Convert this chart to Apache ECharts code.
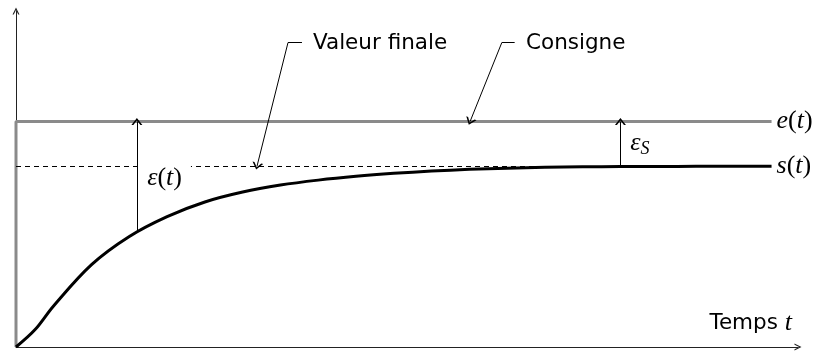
<!DOCTYPE html>
<html>
<head>
<meta charset="utf-8">
<script src="https://cdn.jsdelivr.net/npm/echarts@6/dist/echarts.min.js"></script>
<style>
  html, body { margin: 0; padding: 0; background: #fff; }
  #main { width: 826px; height: 354px; }
</style>
</head>
<body>
<div id="main"></div>
<script>
// temps (abscisse) et sortie s(t)
var temps = [0, 0.25, 0.5, 1, 1.5, 2, 2.5, 3, 3.5, 4, 4.5, 5, 5.5, 6, 6.5, 7, 7.5, 8, 8.5, 9, 9.5, 10];
var sortie = [0, 0.076, 0.183, 0.365, 0.49, 0.578, 0.643, 0.687, 0.718, 0.74, 0.757, 0.77, 0.78, 0.788, 0.793, 0.797, 0.799, 0.8, 0.8, 0.801, 0.801, 0.802];
// consigne e(t) : échelon unitaire
var consigneT = [0, 0, 10];
var consigneV = [0, 1, 1];
var valeurFinale = 0.802;
// instants des flèches d'écart
var tEcart = 1.6;
var tEcartS = 8;

var mathFont = 'Liberation Serif';
var sansFont = 'DejaVu Sans';
var chevron = 'path://M0,10 L5,0 L10,10 L8.2,10 L5,3.4 L1.8,10 Z';

function pairs(xs, ys) {
  return xs.map(function (x, i) { return [x, ys[i]]; });
}
function sAt(t) {
  for (var i = 1; i < temps.length; i++) {
    if (temps[i] >= t) {
      var k = (t - temps[i - 1]) / (temps[i] - temps[i - 1]);
      return sortie[i - 1] + k * (sortie[i] - sortie[i - 1]);
    }
  }
  return sortie[sortie.length - 1];
}

var mathRich = {
  m: { fontFamily: mathFont, fontStyle: 'italic', fontSize: 26, color: '#000' },
  u: { fontFamily: mathFont, fontSize: 26, color: '#000' },
  sub: { fontFamily: mathFont, fontStyle: 'italic', fontSize: 18, color: '#000', padding: [12, 0, 0, 0] },
  s: { fontFamily: sansFont, fontSize: 21.5, color: '#000' }
};

var myChart = echarts.init(document.getElementById('main'));
myChart.setOption({
  animation: false,
  grid: { left: 16, right: 28, top: 11, bottom: 7, containLabel: false },
  xAxis: {
    type: 'value', min: 0, max: 10.35,
    axisLine: { lineStyle: { color: '#222', width: 1 }, symbol: ['none', chevron], symbolSize: [11, 7] },
    axisTick: { show: false }, axisLabel: { show: false }, splitLine: { show: false }
  },
  yAxis: {
    type: 'value', min: 0, max: 1.49,
    axisLine: { lineStyle: { color: '#222', width: 1 }, symbol: ['none', chevron], symbolSize: [11, 7] },
    axisTick: { show: false }, axisLabel: { show: false }, splitLine: { show: false }
  },
  series: [
    {
      name: 'e(t)', type: 'line', data: pairs(consigneT, consigneV),
      symbol: 'none', z: 3,
      lineStyle: { color: '#8a8a8a', width: 3 },
      endLabel: { show: true, distance: 5, formatter: '{m|e}{u|(}{m|t}{u|)}', rich: mathRich }
    },
    {
      name: 's(t)', type: 'line', data: pairs(temps, sortie),
      symbol: 'none', smooth: 0.35, z: 4,
      lineStyle: { color: '#000', width: 3 },
      endLabel: { show: true, distance: 5, formatter: '{m|s}{u|(}{m|t}{u|)}', rich: mathRich }
    },
    {
      name: 'annotations', type: 'line', data: [], z: 5,
      markLine: {
        silent: true, animation: false,
        symbol: ['none', chevron], symbolSize: [11, 7],
        label: { show: false },
        lineStyle: { color: '#000', width: 1, type: 'solid' },
        data: [
          [{ coord: [0, valeurFinale], symbol: 'none', lineStyle: { type: [5, 4], width: 1 } },
           { coord: [tEcartS, valeurFinale], symbol: 'none' }],
          [{ coord: [tEcart, sAt(tEcart)] }, { coord: [tEcart, 1] }],
          [{ coord: [tEcartS, valeurFinale] }, { coord: [tEcartS, 1] }],
          [{ coord: [3.785, 1.35], symbol: 'none' }, { coord: [3.6, 1.35], symbol: 'none' }],
          [{ coord: [3.6, 1.35] }, { coord: [3.19, valeurFinale] }],
          [{ coord: [6.6, 1.35], symbol: 'none' }, { coord: [6.43, 1.35], symbol: 'none' }],
          [{ coord: [6.43, 1.35] }, { coord: [6.01, 1] }]
        ]
      },
      markPoint: {
        silent: true, animation: false,
        symbol: 'circle', symbolSize: 0,
        label: { show: true, position: 'right', distance: 0, rich: mathRich },
        data: [
          { coord: [1.63, 0.747], label: { formatter: '{m|ε}{u|(}{m|t}{u|)}', backgroundColor: '#fff', padding: [2, 9, 2, 8] } },
          { coord: [8.13, 0.905], label: { formatter: '{m|ε}{sub|S}' } },
          { coord: [3.93, 1.348], label: { formatter: '{s|Valeur finale}' } },
          { coord: [6.75, 1.348], label: { formatter: '{s|Consigne}' } },
          { coord: [10.27, 0.105], label: { position: 'left', formatter: '{s|Temps }{m|t}' } }
        ]
      }
    }
  ]
});
</script>
</body>
</html>
